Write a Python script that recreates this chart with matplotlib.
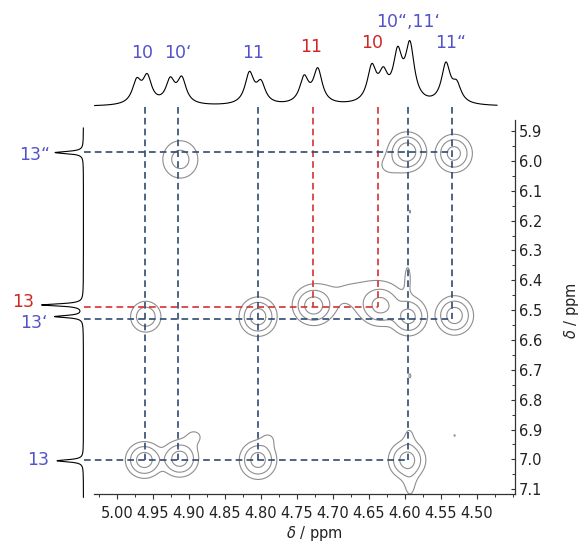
import numpy as np
import matplotlib
matplotlib.use("Agg")
import matplotlib.pyplot as plt
from matplotlib.ticker import MultipleLocator, FormatStrFormatter

# ---------------- data ----------------
# 1D projection on top (F2, ppm) : Lorentzian lines (position, intensity)
top_peak_ppm = [4.9726, 4.958, 4.926, 4.910, 4.816, 4.800, 4.740, 4.721,
                4.646, 4.630, 4.610, 4.593, 4.543, 4.528]
top_peak_amp = [0.32, 0.38, 0.33, 0.36, 0.44, 0.29, 0.37, 0.49,
                0.50, 0.36, 0.66, 0.80, 0.56, 0.25]
top_halfwidth = 0.0075

# 1D projection on the left (F1, ppm)
left_peak_ppm = [5.972, 6.4825, 6.5215, 7.0047]
left_peak_amp = [0.56, 0.82, 0.56, 0.52]
left_halfwidth = 0.0045

# 2D cross peaks (F2 ppm, F1 ppm, intensity, width F2, width F1)
cp_f2 = [4.912, 4.597, 4.532, 4.622,
         4.960, 4.804, 4.727, 4.634, 4.595, 4.531,
         4.962, 4.913, 4.804, 4.597,
         4.665, 4.596, 4.593, 4.594, 4.893, 4.790,
         4.593, 4.531, 4.593]
cp_f1 = [5.995, 5.970, 5.975, 6.015,
         6.522, 6.522, 6.485, 6.485, 6.522, 6.518,
         7.002, 6.998, 7.002, 7.002,
         6.445, 6.380, 7.075, 6.925, 6.925, 6.935,
         6.720, 6.920, 6.170]
cp_amp = [0.36, 1.00, 0.80, 0.10,
          0.50, 0.90, 0.90, 0.75, 0.80, 0.90,
          0.90, 0.90, 0.85, 0.85,
          0.10, 0.08, 0.12, 0.10, 0.10, 0.10,
          0.10, 0.09, 0.09]
cp_wf2 = [0.014, 0.012, 0.012, 0.013,
          0.011, 0.012, 0.013, 0.014, 0.012, 0.012,
          0.012, 0.012, 0.012, 0.012,
          0.048, 0.005, 0.007, 0.006, 0.012, 0.008,
          0.002, 0.0015, 0.0015]
cp_wf1 = [0.036, 0.030, 0.030, 0.028,
          0.027, 0.030, 0.030, 0.032, 0.030, 0.030,
          0.028, 0.028, 0.030, 0.030,
          0.050, 0.050, 0.045, 0.030, 0.025, 0.020,
          0.010, 0.008, 0.010]
contour_levels = [0.08, 0.25, 0.6]

# correlation guide lines
v_blue_ppm = [4.961, 4.915, 4.804, 4.595, 4.535]
v_blue_end = [7.003, 7.003, 7.003, 7.003, 6.530]
v_red_ppm = [4.727, 4.638]
v_red_end = [6.488, 6.488]
h_blue_ppm = [5.971, 6.530, 7.003]
h_blue_end = [4.535, 4.535, 4.595]
h_red_ppm = [6.488]
h_red_end = [4.638]

# assignment labels
top_labels = ["10", "10\u2018", "11", "11", "10", "10\u201c,11\u2018", "11\u201c"]
top_label_ppm = [4.9657, 4.915, 4.8105, 4.730, 4.645, 4.5955, 4.537]
top_label_int = [0.773, 0.773, 0.773, 0.864, 0.913, 1.22, 0.913]
top_label_red = [False, False, False, True, True, False, False]

left_labels = ["13\u201c", "13", "13\u2018", "13"]
left_label_ppm = [5.980, 6.472, 6.543, 7.002]
left_label_int = [0.954, 1.19, 0.974, 0.895]
left_label_red = [False, True, False, False]

x_ticks = [5.00, 4.95, 4.90, 4.85, 4.80, 4.75, 4.70, 4.65, 4.60, 4.55, 4.50]
y_ticks = [5.9, 6.0, 6.1, 6.2, 6.3, 6.4, 6.5, 6.6, 6.7, 6.8, 6.9, 7.0, 7.1]

# ---------------- styles ----------------
BLUE_LINE = "#2f4b6e"
RED_LINE = "#d43131"
BLUE_TXT = "#5353c9"
RED_TXT = "#cf2727"
CONT = "#8e8e8e"

W, H = 581, 546
fig = plt.figure(figsize=(W / 100, H / 100), dpi=100)

def px_rect(x0, y0, x1, y1):
    return [x0 / W, 1 - y1 / H, (x1 - x0) / W, (y1 - y0) / H]

XLIM = (5.0325, 4.447)
YLIM = (7.117, 5.863)

ax = fig.add_axes(px_rect(93.6, 120, 515, 494.3))
axt = fig.add_axes(px_rect(93.6, 20, 515, 110))
axl = fig.add_axes(px_rect(20, 120, 93.6, 494.3))

# ---- 2D contour ----
gx = np.linspace(4.44, 5.05, 500)
gy = np.linspace(5.85, 7.13, 600)
GX, GY = np.meshgrid(gx, gy)
Z = np.zeros_like(GX)
for x0, y0, a, sx, sy in zip(cp_f2, cp_f1, cp_amp, cp_wf2, cp_wf1):
    Z += a * np.exp(-0.5 * ((GX - x0) / sx) ** 2 - 0.5 * ((GY - y0) / sy) ** 2)
ax.contour(GX, GY, Z, levels=contour_levels, colors=CONT, linewidths=0.8, zorder=1)

ax.set_xlim(*XLIM)
ax.set_ylim(*YLIM)

# ---- guide lines ----
x_start = 5.046   # left start of horizontal guides (at left projection baseline)
y_start = 5.819   # top start of vertical guides (at top projection baseline)
dash = dict(linestyle=(0, (4, 2.5)), linewidth=1.2, clip_on=False, zorder=3)
for xp, ye in zip(v_blue_ppm, v_blue_end):
    ax.plot([xp, xp], [y_start, ye], color=BLUE_LINE, **dash)
for xp, ye in zip(v_red_ppm, v_red_end):
    ax.plot([xp, xp], [y_start, ye], color=RED_LINE, **dash)
for yp, xe in zip(h_blue_ppm, h_blue_end):
    ax.plot([x_start, xe], [yp, yp], color=BLUE_LINE, **dash)
for yp, xe in zip(h_red_ppm, h_red_end):
    ax.plot([x_start, xe], [yp, yp], color=RED_LINE, **dash)

# ---- axes styling ----
for s in ("top", "left"):
    ax.spines[s].set_visible(False)
for s in ("bottom", "right"):
    ax.spines[s].set_color("#333333")
    ax.spines[s].set_linewidth(0.9)
ax.yaxis.tick_right()
ax.yaxis.set_label_position("right")
ax.set_xticks(x_ticks)
ax.xaxis.set_major_formatter(FormatStrFormatter("%.2f"))
ax.xaxis.set_minor_locator(MultipleLocator(0.025))
ax.set_yticks(y_ticks)
ax.yaxis.set_major_formatter(FormatStrFormatter("%.1f"))
ax.yaxis.set_minor_locator(MultipleLocator(0.05))
ax.tick_params(axis="x", which="major", direction="out", length=3.5, width=0.8,
               labelsize=10.5, pad=5, colors="#333333", labelcolor="#222222")
ax.tick_params(axis="x", which="minor", direction="out", length=2.5, width=0.7,
               colors="#333333")
ax.tick_params(axis="y", which="major", direction="in", length=3, width=0.8,
               labelsize=10.5, pad=3, colors="#333333", labelcolor="#222222",
               right=True, left=False, labelright=True, labelleft=False)
ax.tick_params(axis="y", which="minor", direction="in", length=2, width=0.7,
               right=True, left=False, colors="#333333")
ax.set_xlabel(r"$\delta$ / ppm", fontsize=10.5, color="#222222")
ax.xaxis.set_label_coords(0.523, -0.080)
ax.set_ylabel(r"$\delta$ / ppm", fontsize=10.5, color="#222222")
ax.yaxis.set_label_coords(1.112, 0.492)

# ---- top projection ----
xs = np.linspace(5.031, 4.472, 3000)
ys = np.zeros_like(xs)
for p, a in zip(top_peak_ppm, top_peak_amp):
    ys += a / (1 + ((xs - p) / top_halfwidth) ** 2)
axt.plot(xs, ys, color="black", linewidth=0.8)
axt.set_xlim(*XLIM)
axt.set_ylim(-0.05, 1.25)
axt.axis("off")
for lab, xp, yp, red in zip(top_labels, top_label_ppm, top_label_int, top_label_red):
    axt.text(xp, yp, lab, color=RED_TXT if red else BLUE_TXT, fontsize=12.5,
             ha="center", va="center", clip_on=False)

# ---- left projection ----
yl = np.linspace(5.89, 7.127, 3000)
xl = np.zeros_like(yl)
for p, a in zip(left_peak_ppm, left_peak_amp):
    xl += a / (1 + ((yl - p) / left_halfwidth) ** 2)
axl.plot(xl, yl, color="black", linewidth=0.8, clip_on=False)
axl.set_xlim(1.25, -0.2)
axl.set_ylim(*YLIM)
axl.axis("off")
for lab, yp, xp, red in zip(left_labels, left_label_ppm, left_label_int, left_label_red):
    axl.text(xp, yp, lab, color=RED_TXT if red else BLUE_TXT, fontsize=12.5,
             ha="center", va="center", clip_on=False)

fig.savefig("out.png", dpi=100)
